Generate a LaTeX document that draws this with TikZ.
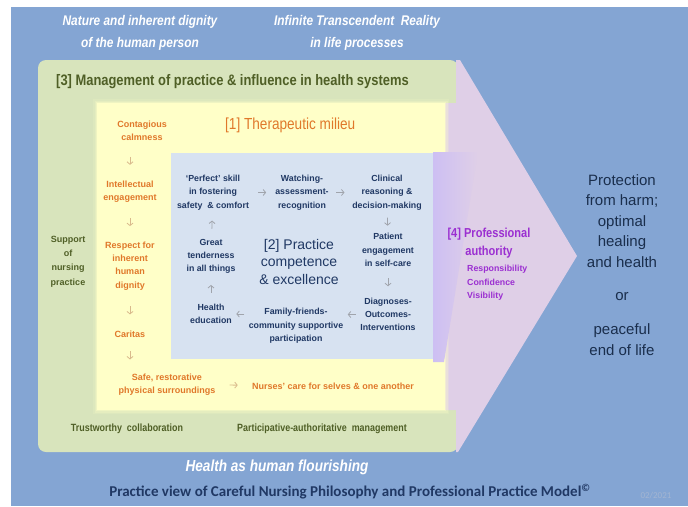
\documentclass[tikz,border=0pt]{standalone}
\usepackage{fontspec}
\setmainfont{Liberation Sans}
\newfontfamily\narrowsans[FakeStretch=0.85]{Liberation Sans}
\newfontfamily\calibrisans{Carlito}
\usepackage{tikz}
\usetikzlibrary{arrows.meta}
\usetikzlibrary{decorations.markings}

\definecolor{skyblue}{HTML}{84A5D3}
\definecolor{sysgreen}{HTML}{D8E4BC}
\definecolor{milieuyellow}{HTML}{FFFFC8}
\definecolor{compblue}{HTML}{D7E2F1}
\definecolor{bandpink}{HTML}{DFCFE7}
\definecolor{authpurple}{HTML}{CDBFF3}
\definecolor{olivetext}{HTML}{4F5F26}
\definecolor{orangetext}{HTML}{E0782A}
\definecolor{navytext}{HTML}{203864}
\definecolor{outcometext}{HTML}{1A2E4C}
\definecolor{purpletext}{HTML}{9B2FD1}
\definecolor{arrowgray}{HTML}{A0A4AC}
\definecolor{arrowtan}{HTML}{D9BA8C}
\definecolor{datetext}{HTML}{A3B5D2}

\tikzset{>=latex}
\tikzset{
  flow/.style={decoration={markings, mark=at position 0.5 with {\draw [#1, line width=0.8pt, -{Straight Barb[length=2.5pt, width=6pt]}] (-4pt,0) -- (4pt,0);}}, postaction={decorate}},
  topline/.style={text=white, align=center, font=\narrowsans\bfseries\itshape\fontsize{14}{22}\selectfont},
  mgmt/.style={text=olivetext, align=center, font=\narrowsans\bfseries\fontsize{10.5}{14}\selectfont},
  milieu/.style={text=orangetext, align=center, font=\bfseries\fontsize{9}{13.3}\selectfont},
  comp/.style={text=navytext, align=center, font=\bfseries\fontsize{8.8}{13.3}\selectfont},
  outcome/.style={text=outcometext, align=center, font=\fontsize{15}{20.5}\selectfont}
}

\begin{document}
\begin{tikzpicture}[x=1pt, y=-1pt, every node/.style={inner sep=1pt}]
\useasboundingbox (0,0) rectangle (688,506);
\fill [white] (0,0) rectangle (688,506);
\fill [skyblue] (11,7) rectangle (688,506);

% layers
\fill [sysgreen, rounded corners=8pt] (38,60) -- (458,60) -- (458,452) -- (38,452) -- cycle;
\fill [bandpink] (445,103) -- (456,103) -- (456,60) -- (460,60) -- (577,256) -- (458,452) -- (456,452) -- (456,410) -- (445,410) -- cycle;
\foreach \w/\o in {8/0.15, 5/0.25, 2/0.4}
  \draw [milieuyellow, line width=\w pt, opacity=\o] (97,103) rectangle (445,410);
\fill [milieuyellow] (97,103) rectangle (445,410);
\shade [left color=authpurple, right color=bandpink] (433,152) -- (478,152) -- (444,362) -- (433,362) -- cycle;
\fill [compblue] (171,153) rectangle (433,359);

\node [topline] (nature) at (140,33) {Nature and inherent dignity\\of the human person};
\node [topline] (infinite) at (357,33) {Infinite Transcendent\ \ Reality\\in life processes};

\node [mgmt, anchor=west, font=\narrowsans\bfseries\fontsize{15.2}{17}\selectfont] (mgmthead) at (55,82) {[3] Management of practice \& influence in health systems};
\node [mgmt, font=\bfseries\fontsize{9}{14.3}\selectfont] (support) at (68,261.5) {Support\\of\\nursing\\practice};
\node [mgmt] (trust) at (127,429) {Trustworthy\ \ collaboration};
\node [mgmt] (particip) at (322,429) {Participative-authoritative\ \ management};

\node [milieu, anchor=west, font=\narrowsans\fontsize{16}{18}\selectfont] (milieuhead) at (224,125) {[1] Therapeutic milieu};
\node [milieu] (calm) at (142,131) {Contagious\\calmness};
\node [milieu] (intel) at (130,191.5) {Intellectual\\engagement};
\node [milieu] (respect) at (130,266) {Respect for\\inherent\\human\\dignity};
\node [milieu] (caritas) at (130,334) {Caritas};
\node [milieu] (safe) at (167,384.5) {Safe, restorative\\physical surroundings};
\node [milieu] (nurses) at (333,386) {Nurses' care for selves \& one another};

\node [comp] (perfect) at (213,192.5) {`Perfect' skill\\in fostering\\safety\ \ \& comfort};
\node [comp] (watch) at (302,192.5) {Watching-\\assessment-\\recognition};
\node [comp] (clinical) at (387,192.5) {Clinical\\reasoning \&\\decision-making};
\node [comp] (patient) at (388,250) {Patient\\engagement\\in self-care};
\node [comp] (diag) at (388,314.5) {Diagnoses-\\Outcomes-\\Interventions};
\node [comp] (family) at (296,326) {Family-friends-\\community supportive\\participation};
\node [comp] (health) at (211,314) {Health\\education};
\node [comp] (great) at (211,256.5) {Great\\tenderness\\in all things};
\node [comp, font=\fontsize{14}{17.5}\selectfont] (practice) at (299,261.5) {[2] Practice\\competence\\\& excellence};

\node [text=purpletext, align=center, font=\narrowsans\bfseries\fontsize{13}{18}\selectfont] (auth) at (489,243) {[4] Professional\\authority};
\node [text=purpletext, align=left, anchor=north west, font=\bfseries\fontsize{8.8}{13.5}\selectfont] (qualities) at (466,264) {Responsibility\\Confidence\\Visibility};

\node [outcome] (protect) at (622,221) {Protection\\from harm;\\optimal\\healing\\and health};
\node [outcome] (either) at (622,297) {or};
\node [outcome] (peace) at (622,339.5) {peaceful\\end of life};

\node [topline, font=\narrowsans\bfseries\itshape\fontsize{16}{18}\selectfont] (flourish) at (277,467) {Health as human flourishing};
\node [text=navytext, font=\calibrisans\bfseries\fontsize{15}{17}\selectfont] (caption) at (350,492) {Practice view of Careful Nursing Philosophy and Professional Practice Model\textsuperscript{\textcopyright}};
\node [text=datetext, font=\calibrisans\fontsize{9}{10}\selectfont] (date) at (656,496) {02/2021};

% milieu flow
\path [flow=arrowtan] (intel |- calm.south) -- (intel);
\path [flow=arrowtan] (intel) -- (respect);
\path [flow=arrowtan] (respect) -- (caritas);
\path [flow=arrowtan] (caritas) -- (caritas |- safe.north);
\path [flow=arrowtan] (safe) -- (nurses);

% competence cycle
\path [flow=arrowgray] (perfect) -- (watch);
\path [flow=arrowgray] (watch) -- (clinical);
\path [flow=arrowgray] (clinical) -- (patient);
\path [flow=arrowgray] (patient) -- (diag);
\path [flow=arrowgray] (diag) -- (family.east |- diag);
\path [flow=arrowgray] (family.west |- health) -- (health);
\path [flow=arrowgray] (health) -- (great);
\path [flow=arrowgray] (great) -- (perfect);
\end{tikzpicture}
\end{document}
